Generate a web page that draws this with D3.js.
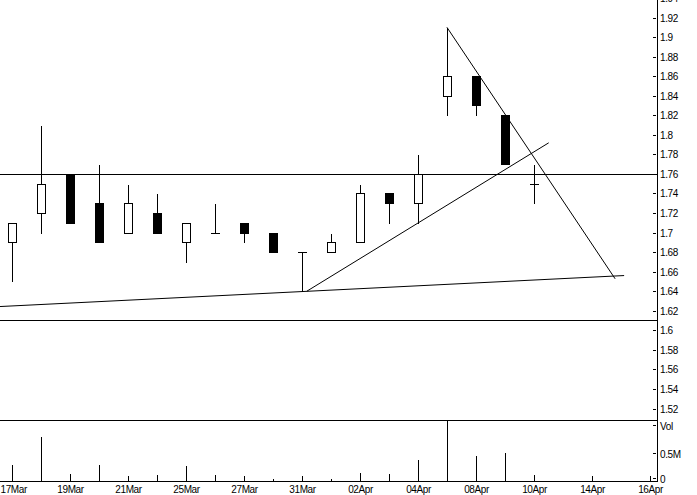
<!DOCTYPE html>
<html>
<head>
<meta charset="utf-8">
<script src="https://cdn.jsdelivr.net/npm/d3@7"></script>
<style>
  html, body { margin: 0; padding: 0; background: #fff; }
  svg { display: block; }
  text { font-family: "Liberation Sans", Arial, sans-serif; font-size: 10px; fill: #000; }
</style>
</head>
<body>
<svg id="chart" width="697" height="495"></svg>
<script>
// ---- Data ----
const dates = ["17Mar","18Mar","19Mar","20Mar","21Mar","24Mar","25Mar","26Mar","27Mar","28Mar","31Mar",
               "01Apr","02Apr","03Apr","04Apr","07Apr","08Apr","09Apr","10Apr","11Apr","14Apr","15Apr","16Apr"];
const dateLabels = ["17Mar","19Mar","21Mar","25Mar","27Mar","31Mar","02Apr","04Apr","08Apr","10Apr","14Apr","16Apr"];
const open  = [1.69,1.72,1.76,1.73,1.70,1.72,1.69,1.70,1.71,1.70,1.68,1.68,1.69,1.74,1.73,1.84,1.86,1.82,1.75];
const close = [1.71,1.75,1.71,1.69,1.73,1.70,1.71,1.70,1.70,1.68,1.68,1.69,1.74,1.73,1.76,1.86,1.83,1.77,1.75];
const high  = [1.71,1.81,1.76,1.77,1.75,1.74,1.71,1.73,1.71,1.70,1.68,1.70,1.75,1.74,1.78,1.91,1.86,1.82,1.77];
const low   = [1.65,1.70,1.71,1.69,1.70,1.70,1.67,1.70,1.69,1.68,1.64,1.68,1.69,1.71,1.71,1.82,1.82,1.77,1.73];
const volume = [0.29,0.79,0.14,0.29,0.08,0.11,0.27,0.11,0.08,0.05,0.08,0.04,0.16,0.13,0.39,1.6,0.45,0.51,0.12]; // millions
const priceTicks = [1.94,1.92,1.9,1.88,1.86,1.84,1.82,1.8,1.78,1.76,1.74,1.72,1.7,1.68,1.66,1.64,1.62,1.6,1.58,1.56,1.54,1.52];
const volTicks = [0, 0.5, 1];
const volTickLabels = ["0", "0.5M", "Vol"];
const hLines = [1.76, 1.611];
// trend lines: [slot index, price] start -> end
const trendX1 = [-0.43, 10.15, 14.98];
const trendP1 = [1.6243, 1.64, 1.91];
const trendX2 = [21.09, 18.49, 20.78];
const trendP2 = [1.656, 1.7918, 1.6527];

// ---- Layout ----
const svg = d3.select("#chart");
const axisX = 657.5;
const x = d3.scaleLinear().domain([0, dates.length - 1]).range([12.5, 650.5]);
const y = d3.scaleLinear().domain([1.52, 1.92]).range([408.5, 17.5]);
const yv = d3.scaleLinear().domain([0, 1]).range([481.5, 425.5]);

const g = svg.append("g").attr("shape-rendering", "crispEdges");

svg.append("clipPath").attr("id", "pclip").append("rect").attr("x", 0).attr("y", 0).attr("width", axisX).attr("height", 420);
svg.append("clipPath").attr("id", "vclip").append("rect").attr("x", 0).attr("y", 420).attr("width", axisX).attr("height", 62);

// horizontal lines
g.selectAll(".hl").data(hLines).join("line")
  .attr("x1", 0).attr("x2", axisX)
  .attr("y1", d => Math.round(y(d)) + 0.5).attr("y2", d => Math.round(y(d)) + 0.5)
  .attr("stroke", "#000").attr("stroke-width", 1);

// volume panel top line
g.append("line").attr("x1", 0).attr("x2", axisX).attr("y1", 420.5).attr("y2", 420.5).attr("stroke", "#000");

// trend lines
const pg = svg.append("g").attr("clip-path", "url(#pclip)");
pg.selectAll(".tl").data(trendX1.map((d, i) => i)).join("line")
  .attr("x1", i => x(trendX1[i])).attr("y1", i => y(trendP1[i]))
  .attr("x2", i => x(trendX2[i])).attr("y2", i => y(trendP2[i]))
  .attr("stroke", "#000").attr("stroke-width", 1);

// candles
const idx = open.map((d, i) => i);
const cg = g.append("g");
cg.selectAll(".wick").data(idx).join("line")
  .attr("x1", i => x(i)).attr("x2", i => x(i))
  .attr("y1", i => Math.round(y(high[i])) + 0.5).attr("y2", i => Math.round(y(low[i])) + 0.5)
  .attr("stroke", "#000");
cg.selectAll(".body").data(idx.filter(i => open[i] !== close[i])).join("rect")
  .attr("x", i => x(i) - 4).attr("width", 8)
  .attr("y", i => Math.round(y(Math.max(open[i], close[i]))) + 0.5)
  .attr("height", i => Math.round(y(Math.min(open[i], close[i]))) - Math.round(y(Math.max(open[i], close[i]))))
  .attr("fill", i => close[i] > open[i] ? "#fff" : "#000")
  .attr("stroke", "#000");
cg.selectAll(".doji").data(idx.filter(i => open[i] === close[i])).join("line")
  .attr("x1", i => x(i) - 4.5).attr("x2", i => x(i) + 4.5)
  .attr("y1", i => Math.round(y(open[i])) + 0.5).attr("y2", i => Math.round(y(open[i])) + 0.5)
  .attr("stroke", "#000");

// volume bars
const vg = svg.append("g").attr("clip-path", "url(#vclip)").attr("shape-rendering", "crispEdges");
vg.selectAll(".vol").data(idx).join("line")
  .attr("x1", i => x(i)).attr("x2", i => x(i))
  .attr("y1", yv(0)).attr("y2", i => yv(volume[i]))
  .attr("stroke", "#000");

// bottom axis
const xAxisG = g.append("g").attr("transform", "translate(0,481.5)");
xAxisG.append("line").attr("x1", 0).attr("x2", axisX).attr("y1", 0).attr("y2", 0).attr("stroke", "#000");
const labelIdx = dateLabels.map(l => dates.indexOf(l));
xAxisG.selectAll(".xt").data(labelIdx).join("line")
  .attr("x1", i => x(i)).attr("x2", i => x(i)).attr("y1", 0).attr("y2", -6).attr("stroke", "#000");
xAxisG.selectAll(".xl").data(labelIdx).join("text")
  .attr("x", i => x(i)).attr("y", 11.5).attr("text-anchor", "middle")
  .attr("letter-spacing", "-0.4")
  .text(i => dates[i])
  .each(function(i) {
    const w = this.getComputedTextLength();
    if (x(i) - w / 2 < 0.5) this.setAttribute("x", w / 2 + 0.5);
  });

// right axis
g.append("line").attr("x1", axisX).attr("x2", axisX).attr("y1", 0).attr("y2", 482).attr("stroke", "#000");
g.selectAll(".pt").data(priceTicks).join("line")
  .attr("x1", 653).attr("x2", 656)
  .attr("y1", d => Math.round(y(d)) + 0.5).attr("y2", d => Math.round(y(d)) + 0.5)
  .attr("stroke", "#000");
svg.selectAll(".pl").data(priceTicks).join("text")
  .attr("x", 660).attr("y", d => y(d) + 4)
  .attr("letter-spacing", "-0.4")
  .text(d => d3.format("")(d));

const volTickY = [478.5, 453.5, 425.5];
g.selectAll(".vt").data(volTicks).join("line")
  .attr("x1", 653).attr("x2", 656)
  .attr("y1", (d, i) => volTickY[i]).attr("y2", (d, i) => volTickY[i])
  .attr("stroke", "#000");
svg.selectAll(".vl").data(volTicks).join("text")
  .attr("x", 660).attr("y", (d, i) => volTickY[i] + 4)
  .attr("letter-spacing", "-0.4")
  .text((d, i) => volTickLabels[i]);
</script>
</body>
</html>
